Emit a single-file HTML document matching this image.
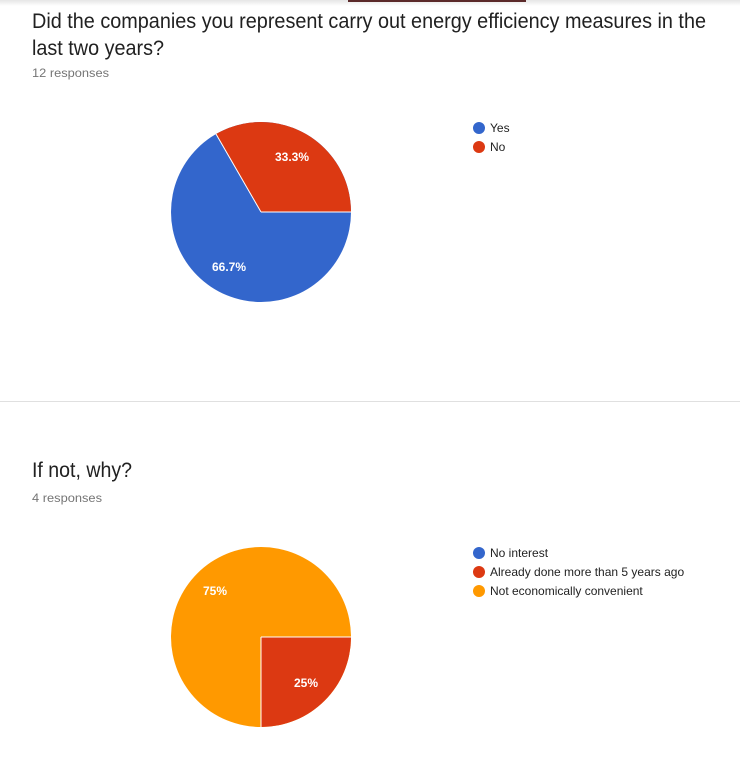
<!DOCTYPE html>
<html><head><style>
body{margin:0;background:#fff;width:740px;height:754px;overflow:hidden;font-family:"Liberation Sans",sans-serif}
</style></head><body>
<svg width="740" height="754" xmlns="http://www.w3.org/2000/svg" font-family="Liberation Sans, sans-serif">
<defs><linearGradient id="sh" x1="0" y1="0" x2="0" y2="1"><stop offset="0" stop-color="#e6e6e6"/><stop offset="1" stop-color="#ffffff"/></linearGradient></defs>
<rect x="0" y="0" width="740" height="6" fill="url(#sh)"/>
<rect x="348" y="0" width="178" height="2" fill="#5b2a2a"/>
<text x="32" y="28" font-size="21" fill="#212121" textLength="674" lengthAdjust="spacingAndGlyphs">Did the companies you represent carry out energy efficiency measures in the</text>
<text x="32" y="55" font-size="21" fill="#212121" textLength="132" lengthAdjust="spacingAndGlyphs">last two years?</text>
<text x="32" y="77" font-size="12" fill="#757575" textLength="77" lengthAdjust="spacingAndGlyphs">12 responses</text>
<circle cx="261" cy="212" r="90" fill="#3366cc"/>
<path d="M261,212 L216,134.06 A90,90 0 0 1 351,212 Z" fill="#dc3912"/>
<line x1="261" y1="212" x2="216" y2="134.06" stroke="#fff" stroke-width="1"/>
<line x1="261" y1="212" x2="351" y2="212" stroke="#fff" stroke-width="1"/>
<text x="292" y="161" font-size="12" font-weight="bold" fill="#fff" text-anchor="middle">33.3%</text>
<text x="229" y="271" font-size="12" font-weight="bold" fill="#fff" text-anchor="middle">66.7%</text>
<circle cx="479" cy="128" r="6" fill="#3366cc"/>
<text x="490" y="132" font-size="12" fill="#222">Yes</text>
<circle cx="479" cy="147" r="6" fill="#dc3912"/>
<text x="490" y="151" font-size="12" fill="#222">No</text>
<rect x="0" y="401" width="740" height="1" fill="#e0e0e0"/>
<text x="32" y="477" font-size="21" fill="#212121" textLength="100" lengthAdjust="spacingAndGlyphs">If not, why?</text>
<text x="32" y="502" font-size="12" fill="#757575" textLength="70" lengthAdjust="spacingAndGlyphs">4 responses</text>
<circle cx="261" cy="637" r="90" fill="#ff9900"/>
<path d="M261,637 L351,637 A90,90 0 0 1 261,727 Z" fill="#dc3912"/>
<line x1="261" y1="637" x2="351" y2="637" stroke="#fff" stroke-width="1"/>
<line x1="261" y1="637" x2="261" y2="727" stroke="#fff" stroke-width="1"/>
<text x="215" y="595" font-size="12" font-weight="bold" fill="#fff" text-anchor="middle">75%</text>
<text x="306" y="687" font-size="12" font-weight="bold" fill="#fff" text-anchor="middle">25%</text>
<circle cx="479" cy="553" r="6" fill="#3366cc"/>
<text x="490" y="557" font-size="12" fill="#222">No interest</text>
<circle cx="479" cy="572" r="6" fill="#dc3912"/>
<text x="490" y="576" font-size="12" fill="#222">Already done more than 5 years ago</text>
<circle cx="479" cy="591" r="6" fill="#ff9900"/>
<text x="490" y="595" font-size="12" fill="#222">Not economically convenient</text>
</svg>
</body></html>
